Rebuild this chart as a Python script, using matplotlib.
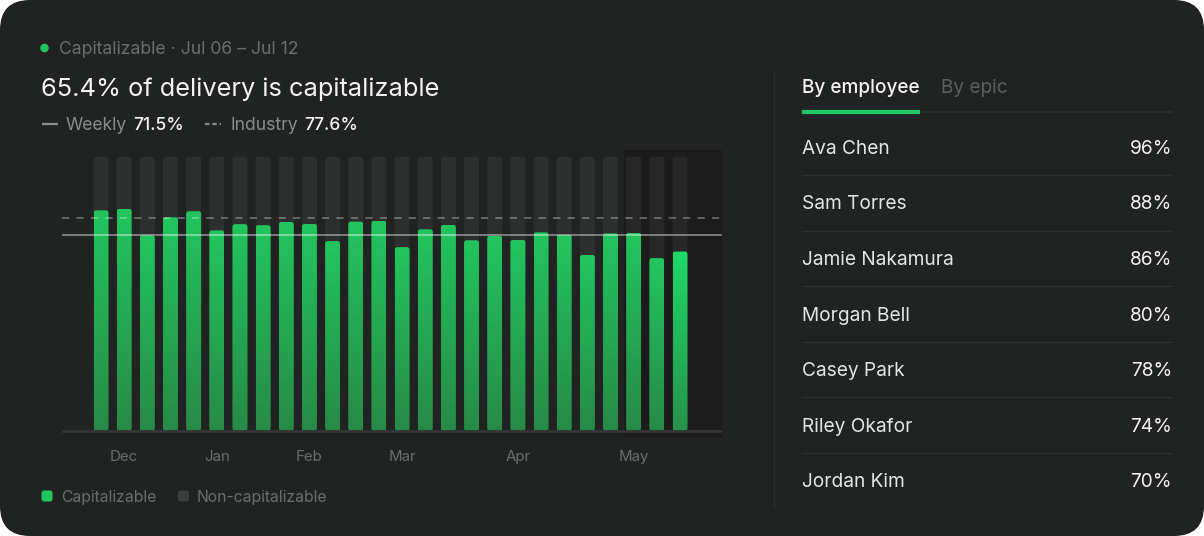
import numpy as np
import matplotlib
matplotlib.use("Agg")
import matplotlib.pyplot as plt
from matplotlib.patches import FancyBboxPatch, Rectangle, Circle
from matplotlib.colors import LinearSegmentedColormap

plt.rcParams['font.family'] = ['Inter', 'DejaVu Sans']

# ---------------- data ----------------
capitalizable = [80.4, 81.0, 71.3, 77.9, 80.1, 73.1, 75.4, 75.0, 76.2, 75.5,
                 69.2, 76.3, 76.6, 67.0, 73.5, 75.1, 69.5, 71.1, 69.7, 72.4,
                 71.4, 64.2, 72.0, 72.2, 63.0, 65.4]
month_labels = ['Dec', 'Jan', 'Feb', 'Mar', 'Apr', 'May']
month_bar_index = [1, 5, 9, 13, 18, 23]
weekly_avg = 71.5
industry_avg = 77.6
current_pct = 65.4
partial_start = 23
period_label = 'Capitalizable · Jul 06 – Jul 12'
employees = ['Ava Chen', 'Sam Torres', 'Jamie Nakamura', 'Morgan Bell',
             'Casey Park', 'Riley Okafor', 'Jordan Kim']
employee_pct = [96, 88, 86, 80, 78, 74, 70]
tabs = ['By employee', 'By epic']

# ---------------- style ----------------
W, H = 1204, 536
BG = '#202321'
GREEN = '#22c55e'
MUTED = '#6b6e6b'
LABEL = '#8a8d8a'
WHITE = '#f2f2f2'
SEP = '#2e312e'

def px(v):
    return v * 0.72  # px -> pt at dpi 100

fig = plt.figure(figsize=(W / 100, H / 100), dpi=100, facecolor='white')

# background / overlay axes in pixel coordinates
bg = fig.add_axes([0, 0, 1, 1], zorder=0)
bg.set_xlim(0, W)
bg.set_ylim(H, 0)
bg.axis('off')
bg.add_patch(FancyBboxPatch((0, 0), W, H, boxstyle='round,pad=0,rounding_size=30',
                            fc=BG, ec='none'))

# ---------------- header ----------------
bg.add_patch(Circle((44.5, 48), 3.6, color=GREEN))
bg.text(59, 49.2, period_label, fontsize=px(17.6), color=MUTED, va='center', ha='left')
bg.text(41, 89.5, f'{current_pct}% of delivery is capitalizable', fontsize=px(25.4),
        color=WHITE, va='center', ha='left')
bg.plot([42, 58], [124, 124], color=LABEL, lw=1.6, solid_capstyle='butt')
bg.text(66, 125.2, 'Weekly', fontsize=px(17.5), color=LABEL, va='center', ha='left')
bg.text(133, 125.2, f'{weekly_avg}%', fontsize=px(17.5), color=WHITE, va='center', ha='left',
        fontweight='medium')
bg.plot([205, 221], [124, 124], color=LABEL, lw=1.6, ls=(0, (2.0, 1.3)), solid_capstyle='butt',
        dash_capstyle='butt')
bg.text(230, 125.2, 'Industry', fontsize=px(17.5), color=LABEL, va='center', ha='left')
bg.text(304, 125.2, f'{industry_avg}%', fontsize=px(17.5), color=WHITE, va='center', ha='left',
        fontweight='medium')

# ---------------- bottom legend ----------------
bg.add_patch(FancyBboxPatch((41.5, 490.5), 11, 11, boxstyle='round,pad=0,rounding_size=2.5',
                            fc=GREEN, ec='none'))
bg.text(61, 497.5, 'Capitalizable', fontsize=px(15.7), color=MUTED, va='center', ha='left')
bg.add_patch(FancyBboxPatch((178, 490.5), 11, 11, boxstyle='round,pad=0,rounding_size=2.5',
                            fc='#3b3e3b', ec='none', hatch='....', lw=0))
bg.text(197, 497.5, 'Non-capitalizable', fontsize=px(15.7), color=MUTED, va='center', ha='left')

# ---------------- right panel ----------------
bg.plot([773.5, 773.5], [72, 507], color=SEP, lw=1)
bg.text(802, 88.2, tabs[0], fontsize=px(19), color=WHITE, va='center', ha='left',
        fontweight='medium')
bg.text(941, 88.2, tabs[1], fontsize=px(19), color='#5c5f5c', va='center', ha='left')
bg.plot([802, 1172], [112, 112], color=SEP, lw=1.2)
bg.plot([802, 920], [112, 112], color=GREEN, lw=3, solid_capstyle='butt')

row_y0, row_step = 148.8, 55.6
for i, (name, pct) in enumerate(zip(employees, employee_pct)):
    y = row_y0 + i * row_step
    bg.text(802, y, name, fontsize=px(19.1), color='#e4e6e4', va='center', ha='left')
    bg.text(1172, y, f'{pct}%', fontsize=px(19.1), color=WHITE, va='center', ha='right')
    if i < len(employees) - 1:
        ys = 175 + i * row_step
        bg.plot([802, 1172], [ys, ys], color=SEP, lw=1)

# ---------------- chart axes ----------------
L, R, T, B = 62, 722, 150, 438
ax = fig.add_axes([L / W, (H - B) / H, (R - L) / W, (B - T) / H], zorder=1)
ax.patch.set_alpha(0)
for s in ax.spines.values():
    s.set_visible(False)
ax.set_xticks([])
ax.set_yticks([])

x0_px, step_px = 101.0, 23.16
base_px, ppu = 430.7, 2.74
xl = ((L - x0_px) / step_px, (R - x0_px) / step_px)
yl = ((base_px - B) / ppu, (base_px - T) / ppu)

bar_w = 15.0 / step_px
aspect = (1 / ppu) / (1 / step_px)
rs = 2.6 / step_px

n = len(capitalizable)
xs = np.arange(n)

# partial-week shaded region
ax.add_patch(Rectangle((partial_start - 9.5 / step_px, yl[0]), xl[1] - (partial_start - 9.5 / step_px),
                       yl[1] - yl[0], fc='#1a1b1a', ec='none', zorder=0.5))

cmap = LinearSegmentedColormap.from_list('g', ['#278a47', '#22c55e'])
cmap_last = LinearSegmentedColormap.from_list('g2', ['#26924a', '#1fd968'])
grad = np.linspace(0, 1, 256).reshape(-1, 1)

for i, v in zip(xs, capitalizable):
    track = FancyBboxPatch((i - bar_w / 2, 0), bar_w, 100,
                           boxstyle=f'round,pad=0,rounding_size={rs}', mutation_aspect=aspect,
                           fc='white', alpha=0.055, ec='none', zorder=1)
    ax.add_patch(track)
    bar = FancyBboxPatch((i - bar_w / 2, 0), bar_w, v,
                         boxstyle=f'round,pad=0,rounding_size={rs}', mutation_aspect=aspect,
                         fc='none', ec='none', zorder=2)
    ax.add_patch(bar)
    cm = cmap_last if i == n - 1 else cmap
    im = ax.imshow(grad, extent=[i - bar_w / 2, i + bar_w / 2, 0, v], origin='lower',
                   cmap=cm, aspect='auto', zorder=2, interpolation='bilinear')
    im.set_clip_path(bar)

ax.axhline(0, color='#343734', lw=2, zorder=3)
ax.axhline(weekly_avg, color='white', alpha=0.45, lw=1.3, zorder=4)
ax.axhline(industry_avg, color='white', alpha=0.33, lw=1.3, ls=(0, (4, 4)), zorder=4)

ax.set_xlim(*xl)
ax.set_ylim(*yl)
ax.set_aspect('auto')

# month labels
for lab, bi in zip(month_labels, month_bar_index):
    bg.text(x0_px + bi * step_px, 457, lab, fontsize=px(15), color=MUTED,
            va='center', ha='center')

fig.savefig('out.png', dpi=100, facecolor='white')
